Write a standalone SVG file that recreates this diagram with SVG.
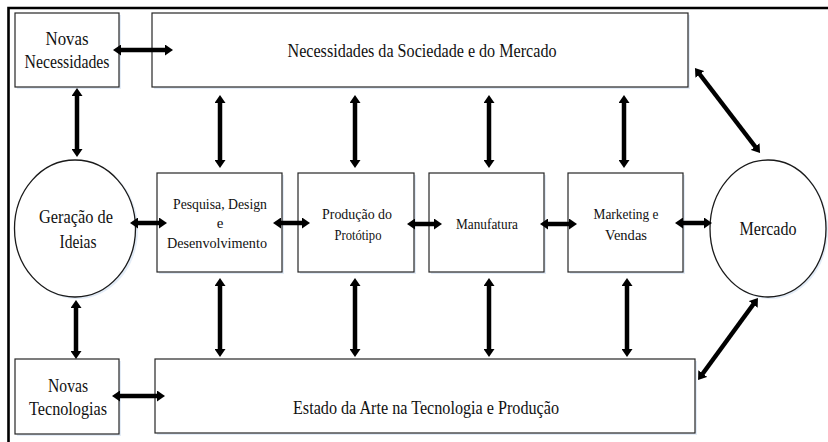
<svg xmlns="http://www.w3.org/2000/svg" width="828" height="442" viewBox="0 0 828 442">
  <style>
    .box { fill: #ffffff; stroke: #262626; stroke-width: 1.2; }
    .ell { fill: #ffffff; stroke: #1a1a1a; stroke-width: 1.3; }
    .shadow { fill: #e3ecf7; }
    text { font-family: 'Liberation Serif', 'Times New Roman', serif; fill: #111; text-anchor: middle; }
    .big { font-size: 19px; }
    .sm { font-size: 15px; }
    .arr { stroke: #000; stroke-width: 4.5; fill: none; marker-start: url(#ah); marker-end: url(#ah); }
    .frame { stroke: #000; stroke-width: 2.6; fill: none; }
  </style>
  <defs>
    <marker id="ah" markerUnits="userSpaceOnUse" markerWidth="8" markerHeight="11" viewBox="0 0 8 11" refX="3" refY="5.5" orient="auto-start-reverse">
      <path d="M0,0 L8,5.5 L0,11 z" fill="#000"/>
    </marker>
  </defs>
  <rect width="828" height="442" fill="#ffffff"/>
  <path class="frame" d="M8.5,442 V8 H828"/>

  <g id="novas-necessidades">
    <rect class="shadow" x="17" y="15" width="104" height="74"/>
    <rect class="box" x="15" y="13" width="104" height="74"/>
    <text class="big" x="67" y="45" textLength="43" lengthAdjust="spacingAndGlyphs">Novas</text>
    <text class="big" x="67" y="68" textLength="85" lengthAdjust="spacingAndGlyphs">Necessidades</text>
  </g>
  <g id="necessidades-sociedade">
    <rect class="shadow" x="154" y="15" width="536" height="74"/>
    <rect class="box" x="152" y="13" width="536" height="74"/>
    <text class="big" x="422" y="57" font-size="20" textLength="269" lengthAdjust="spacingAndGlyphs">Necessidades da Sociedade e do Mercado</text>
  </g>
  <g id="geracao-ideias">
    <ellipse class="shadow" cx="77" cy="230" rx="61" ry="69"/>
    <ellipse class="ell" cx="75" cy="228.5" rx="60.5" ry="68.5"/>
    <text class="big" x="76" y="223" textLength="74" lengthAdjust="spacingAndGlyphs">Geração de</text>
    <text class="big" x="78" y="248" textLength="37" lengthAdjust="spacingAndGlyphs">Ideias</text>
  </g>
  <g id="pesquisa">
    <rect class="shadow" x="159" y="175" width="125" height="99"/>
    <rect class="box" x="157" y="173" width="125" height="99"/>
    <text class="sm" x="220" y="209" textLength="94" lengthAdjust="spacingAndGlyphs">Pesquisa, Design</text>
    <text class="sm" x="220" y="228">e</text>
    <text class="sm" x="217" y="248" textLength="100" lengthAdjust="spacingAndGlyphs">Desenvolvimento</text>
  </g>
  <g id="prototipo">
    <rect class="shadow" x="300" y="175" width="116" height="99"/>
    <rect class="box" x="298" y="173" width="116" height="99"/>
    <text class="sm" x="357" y="219" textLength="70" lengthAdjust="spacingAndGlyphs">Produção do</text>
    <text class="sm" x="358" y="240" textLength="47" lengthAdjust="spacingAndGlyphs">Protótipo</text>
  </g>
  <g id="manufatura">
    <rect class="shadow" x="431" y="175" width="115" height="99"/>
    <rect class="box" x="429" y="173" width="115" height="99"/>
    <text class="sm" x="487" y="229" textLength="62" lengthAdjust="spacingAndGlyphs">Manufatura</text>
  </g>
  <g id="marketing">
    <rect class="shadow" x="570" y="175" width="115" height="99"/>
    <rect class="box" x="568" y="173" width="115" height="99"/>
    <text class="sm" x="626" y="219" textLength="65" lengthAdjust="spacingAndGlyphs">Marketing e</text>
    <text class="sm" x="626" y="240" textLength="42" lengthAdjust="spacingAndGlyphs">Vendas</text>
  </g>
  <g id="mercado">
    <ellipse class="shadow" cx="770" cy="230" rx="58" ry="69"/>
    <ellipse class="ell" cx="768" cy="228.5" rx="58" ry="68.5"/>
    <text class="big" x="768" y="235" font-size="20" textLength="57" lengthAdjust="spacingAndGlyphs">Mercado</text>
  </g>
  <g id="novas-tecnologias">
    <rect class="shadow" x="17" y="361" width="104" height="75"/>
    <rect class="box" x="15" y="359" width="104" height="75"/>
    <text class="big" x="68" y="392" textLength="40" lengthAdjust="spacingAndGlyphs">Novas</text>
    <text class="big" x="68" y="415" textLength="78" lengthAdjust="spacingAndGlyphs">Tecnologias</text>
  </g>
  <g id="estado-arte">
    <rect class="shadow" x="157" y="361" width="540" height="74"/>
    <rect class="box" x="155" y="359" width="540" height="74"/>
    <text class="big" x="426" y="414" font-size="20" textLength="266" lengthAdjust="spacingAndGlyphs">Estado da Arte na Tecnologia e Produção</text>
  </g>

  <g id="connectors">
    <line class="arr" x1="118" y1="50" x2="168" y2="50"/>
    <line class="arr" x1="117" y1="396" x2="160" y2="396"/>
    <line class="arr" x1="77" y1="93" x2="77" y2="152"/>
    <line class="arr" x1="76" y1="305" x2="76" y2="354"/>
    <line class="arr" x1="220" y1="100" x2="220" y2="163"/>
    <line class="arr" x1="355" y1="100" x2="355" y2="163"/>
    <line class="arr" x1="489" y1="100" x2="489" y2="163"/>
    <line class="arr" x1="624" y1="100" x2="624" y2="163"/>
    <line class="arr" x1="220" y1="283" x2="220" y2="352"/>
    <line class="arr" x1="355" y1="283" x2="355" y2="352"/>
    <line class="arr" x1="489" y1="283" x2="489" y2="352"/>
    <line class="arr" x1="627" y1="283" x2="627" y2="352"/>
    <line class="arr" x1="135" y1="223" x2="162" y2="223"/>
    <line class="arr" x1="278" y1="223" x2="305" y2="223"/>
    <line class="arr" x1="412" y1="224" x2="437" y2="224"/>
    <line class="arr" x1="545" y1="224" x2="572" y2="224"/>
    <line class="arr" x1="680" y1="223" x2="707" y2="223"/>
    <line class="arr" x1="698" y1="72" x2="757" y2="149"/>
    <line class="arr" x1="755" y1="302" x2="701" y2="376"/>
  </g>
</svg>
